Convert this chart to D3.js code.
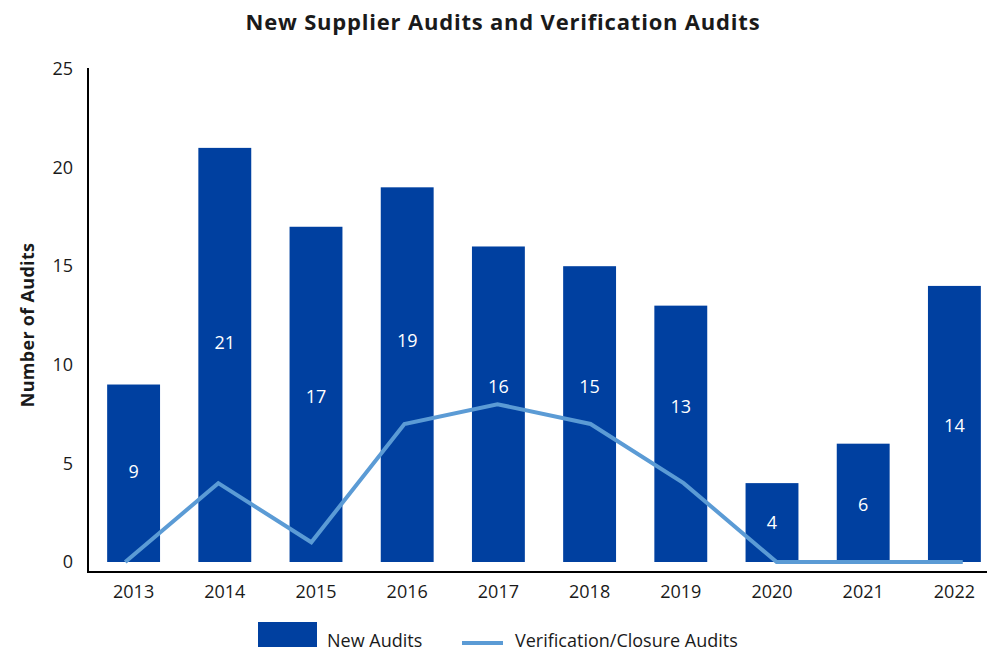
<!DOCTYPE html>
<html>
<head>
<meta charset="utf-8">
<script src="https://cdn.jsdelivr.net/npm/d3@7"></script>
<style>
  body { margin: 0; background: #fff; }
  text { font-family: "Open Sans", Lato, sans-serif; }
</style>
</head>
<body>
<svg id="chart" width="987" height="654"></svg>
<script>
// data
let years = ["2013", "2014", "2015", "2016", "2017", "2018", "2019", "2020", "2021", "2022"];
let newAudits = [9, 21, 17, 19, 16, 15, 13, 4, 6, 14];
let verificationAudits = [0, 4, 1, 7, 8, 7, 4, 0, 0, 0];
let yTicks = [0, 5, 10, 15, 20, 25];

let barColor = "#0040a0";
let lineColor = "#5b9bd5";
let textColor = "#1a1a1a";

let svg = d3.select("#chart");
let margin = {left: 88, top: 69, bottom: 562};

// bars run slightly off the right edge in the original
let x = d3.scaleBand()
    .domain(years)
    .range([margin.left, 1000])
    .paddingInner(0.42)
    .paddingOuter(0.21);

// the line sits a little wider than the bars
let xLine = d3.scalePoint()
    .domain(years)
    .range([margin.left, 1000])
    .padding(0.4);

let y = d3.scaleLinear().domain([0, 25]).range([margin.bottom, margin.top]);

// title
svg.append("text")
    .attr("x", 503).attr("y", 22).attr("dy", "0.35em")
    .attr("text-anchor", "middle")
    .style("font-size", "22px").style("font-weight", "bold").style("fill", textColor)
    .style("letter-spacing", "0.8px")
    .text("New Supplier Audits and Verification Audits");

// y axis title
svg.append("text")
    .attr("transform", "translate(28,325) rotate(-90)")
    .attr("text-anchor", "middle").attr("dy", "0.35em")
    .style("font-size", "18px").style("font-weight", "bold").style("fill", textColor)
    .style("letter-spacing", "0.3px")
    .text("Number of Audits");

// y axis, only labels and the line
let yAxis = svg.append("g")
    .attr("transform", "translate(" + margin.left + ",0)")
    .call(d3.axisLeft(y).tickValues(yTicks).tickSize(0).tickPadding(15));
yAxis.select(".domain").remove();
yAxis.selectAll("text").style("font-size", "18px").style("fill", textColor).style("font-family", "'Open Sans', sans-serif");
svg.append("line")
    .attr("x1", margin.left).attr("x2", margin.left)
    .attr("y1", 68).attr("y2", 573)
    .attr("stroke", "#000").attr("stroke-width", 2);

// x axis
let xAxis = svg.append("g")
    .attr("transform", "translate(0,572)")
    .call(d3.axisBottom(x).tickSize(0).tickPadding(13));
xAxis.select(".domain").remove();
xAxis.selectAll("text").style("font-size", "18px").style("fill", textColor).style("font-family", "'Open Sans', sans-serif");
svg.append("line")
    .attr("x1", margin.left - 1).attr("x2", 987)
    .attr("y1", 572).attr("y2", 572)
    .attr("stroke", "#000").attr("stroke-width", 2);

// bars
svg.append("g").selectAll("rect")
    .data(newAudits)
    .join("rect")
    .attr("x", (d, i) => x(years[i]))
    .attr("y", d => y(d))
    .attr("width", x.bandwidth())
    .attr("height", d => y(0) - y(d))
    .attr("fill", barColor);

// line
let line = d3.line()
    .x((d, i) => xLine(years[i]))
    .y(d => y(d));

svg.append("path")
    .datum(verificationAudits)
    .attr("d", line)
    .attr("fill", "none")
    .attr("stroke", lineColor)
    .attr("stroke-width", 4);

// labels were nudged by hand in the original, value-axis height of each
let labelAt = [4.6, 11.1, 8.4, 11.2, 8.9, 8.9, 7.9, 2.0, 2.9, 6.9];
svg.append("g").selectAll("text")
    .data(newAudits)
    .join("text")
    .attr("x", (d, i) => x(years[i]) + x.bandwidth() / 2)
    .attr("y", (d, i) => y(labelAt[i]))
    .attr("dy", "0.35em")
    .attr("text-anchor", "middle")
    .style("font-size", "18px")
    .style("fill", "#fff")
    .text(d => d);

// legend
let legend = svg.append("g");
legend.append("rect")
    .attr("x", 258).attr("y", 622).attr("width", 59).attr("height", 25)
    .attr("fill", barColor);
legend.append("text")
    .attr("x", 327).attr("y", 641).attr("dy", "0.35em")
    .style("font-size", "18px").style("fill", textColor)
    .text("New Audits");
legend.append("line")
    .attr("x1", 462).attr("x2", 503).attr("y1", 643).attr("y2", 643)
    .attr("stroke", lineColor).attr("stroke-width", 4);
legend.append("text")
    .attr("x", 515).attr("y", 641).attr("dy", "0.35em")
    .style("font-size", "18px").style("fill", textColor)
    .text("Verification/Closure Audits");
</script>
</body>
</html>
